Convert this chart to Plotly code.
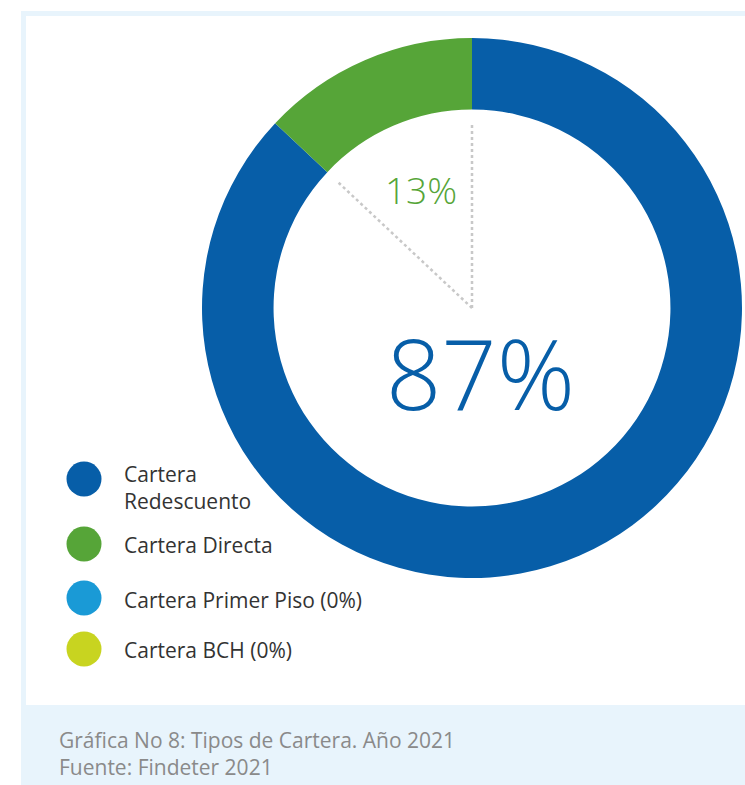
import math
import plotly.graph_objects as go

# ---- data ----
categories = ["Cartera Redescuento", "Cartera Directa", "Cartera Primer Piso", "Cartera BCH"]
legend_labels = ["Cartera<br>Redescuento", "Cartera Directa", "Cartera Primer Piso (0%)", "Cartera BCH (0%)"]
values = [87, 13, 0, 0]
colors = ["#075ea8", "#56a538", "#1a9ad6", "#c8d420"]
caption_lines = ["Gráfica No 8: Tipos de Cartera. Año 2021", "Fuente: Findeter 2021"]

W, H = 745, 785
cx, cy, R = 472, 308, 270
FONT = "Open Sans"

fig = go.Figure()

fig.add_trace(go.Pie(
    labels=categories, values=values, marker=dict(colors=colors, line=dict(width=0)),
    hole=0.735, sort=False, direction="clockwise", rotation=0,
    textinfo="none", hoverinfo="label+percent", showlegend=False,
    domain=dict(x=[(cx - R) / W, (cx + R) / W], y=[(H - cy - R) / H, (H - cy + R) / H]),
))

# legend markers (scatter on a hidden pixel-space axis)
leg_y = [479, 544, 598, 649]
fig.add_trace(go.Scatter(
    x=[84] * len(categories), y=leg_y, mode="markers",
    marker=dict(size=35, color=colors, line=dict(width=0)),
    hoverinfo="skip", showlegend=False,
))

text_y = [487, 545, 600, 650]
annotations = []
for lab, ty in zip(legend_labels, text_y):
    annotations.append(dict(x=122, y=ty, xref="x", yref="y", text=lab, showarrow=False,
                            xanchor="left", yanchor="middle", align="left",
                            font=dict(family=FONT, size=21, color="#333333")))

# percentage labels
total = sum(values)
pct_main = round(values[0] / total * 100)
pct_second = round(values[1] / total * 100)
annotations.append(dict(x=480, y=372, xref="x", yref="y", text=f"{pct_main}%", showarrow=False,
                        xanchor="center", yanchor="middle",
                        font=dict(family=FONT, size=97, color=colors[0], weight=300)))
annotations.append(dict(x=421, y=189, xref="x", yref="y", text=f"{pct_second}%", showarrow=False,
                        xanchor="center", yanchor="middle",
                        font=dict(family=FONT, size=37, color=colors[1], weight=300)))

# caption
annotations.append(dict(x=57, y=753, xref="x", yref="y", text="<br>".join(caption_lines), showarrow=False,
                        xanchor="left", yanchor="middle", align="left",
                        font=dict(family=FONT, size=21, color="#8a8a8a")))

# shapes: frame + leader lines
shapes = [
    dict(type="rect", xref="x", yref="y", x0=21, x1=W, y0=11, y1=H, fillcolor="#e8f4fc",
         line=dict(width=0), layer="below"),
    dict(type="rect", xref="x", yref="y", x0=26, x1=W, y0=16, y1=705, fillcolor="#ffffff",
         line=dict(width=0), layer="below"),
]
rl = 184
a_boundary = 2 * math.pi * (1 - values[1] / total)
for ang in [0, a_boundary]:
    shapes.append(dict(type="line", xref="x", yref="y", x0=cx, y0=cy,
                       x1=cx + rl * math.sin(ang), y1=cy - rl * math.cos(ang),
                       line=dict(color="#c8c8c8", width=2.5, dash="dot")))

fig.update_layout(
    width=W, height=H, margin=dict(l=0, r=0, t=0, b=0),
    paper_bgcolor="#ffffff", plot_bgcolor="rgba(0,0,0,0)",
    xaxis=dict(range=[0, W], visible=False, fixedrange=True),
    yaxis=dict(range=[H, 0], visible=False, fixedrange=True),
    shapes=shapes, annotations=annotations, showlegend=False,
    font=dict(family=FONT),
)

fig.write_html("out.html")
